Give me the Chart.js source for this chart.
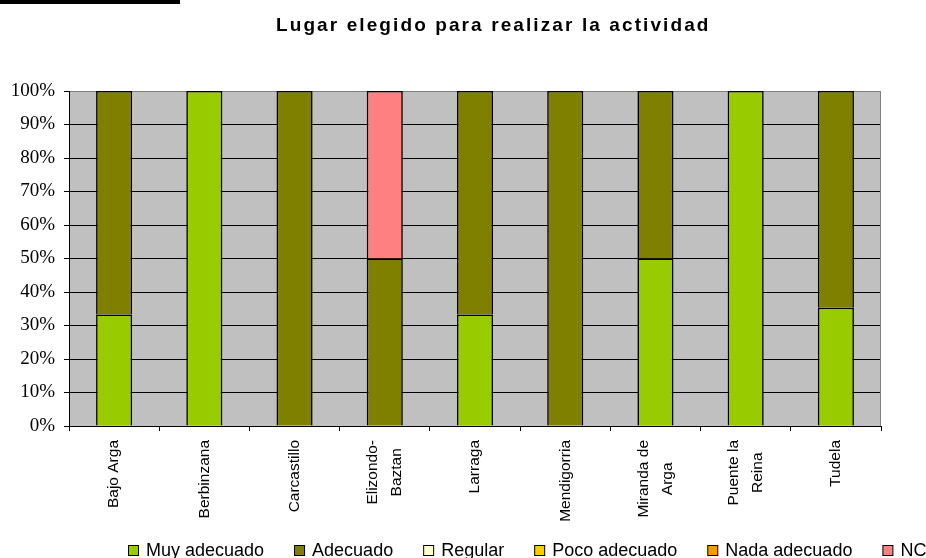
<!DOCTYPE html>
<html>
<head>
<meta charset="utf-8">
<script src="https://cdn.jsdelivr.net/npm/chart.js@4/dist/chart.umd.min.js"></script>
<style>
  html, body { margin: 0; padding: 0; background: #ffffff; }
  #wrap { position: relative; width: 926px; height: 558px; overflow: hidden; }
  #rule { position: absolute; left: 0; top: 0; width: 180px; height: 4px; background: #000; }
  canvas { display: block; }
</style>
</head>
<body>
<div id="wrap">
  <canvas id="c" width="926" height="558"></canvas>
  <div id="rule"></div>
</div>
<script>
// Localidades (multi-line labels split as arrays)
const categories = [
  'Bajo Arga',
  'Berbinzana',
  'Carcastillo',
  ['Elizondo-', 'Baztan'],
  'Larraga',
  'Mendigorria',
  ['Miranda de', 'Arga'],
  ['Puente la', 'Reina'],
  'Tudela'
];

// Porcentaje de respuestas por valoración
const muyAdecuado  = [33.3, 100, 0, 0, 33.3, 0, 50, 100, 35.3];
const adecuado     = [66.7, 0, 100, 50, 66.7, 100, 50, 0, 64.7];
const regular      = [0, 0, 0, 0, 0, 0, 0, 0, 0];
const pocoAdecuado = [0, 0, 0, 0, 0, 0, 0, 0, 0];
const nadaAdecuado = [0, 0, 0, 0, 0, 0, 0, 0, 0];
const nc           = [0, 0, 0, 50, 0, 0, 0, 0, 0];

const seriesNames = ['Muy adecuado', 'Adecuado', 'Regular', 'Poco adecuado', 'Nada adecuado', 'NC'];
const seriesColors = ['#99CC00', '#808000', '#FFFFCC', '#FFCC00', '#FF9900', '#FF8080'];
const seriesData = [muyAdecuado, adecuado, regular, pocoAdecuado, nadaAdecuado, nc];

const yTicks = [0, 10, 20, 30, 40, 50, 60, 70, 80, 90, 100];

const titleText = 'Lugar elegido para realizar la actividad';

const datasets = seriesNames.map((name, i) => ({
  label: name,
  data: seriesData[i],
  backgroundColor: seriesColors[i],
  borderColor: '#000000',
  borderWidth: 1.6,
  borderSkipped: 'start',
  categoryPercentage: 1.0,
  barPercentage: 0.4
}));

// Grey plot background and frame
const plotFrame = {
  id: 'plotFrame',
  beforeDraw(chart) {
    const { ctx, chartArea: a } = chart;
    ctx.save();
    ctx.fillStyle = '#C0C0C0';
    ctx.fillRect(a.left, a.top, a.right - a.left, a.bottom - a.top);
    ctx.restore();
  },
  beforeDatasetsDraw(chart) {
    const { ctx, chartArea: a } = chart;
    ctx.save();
    ctx.strokeStyle = '#808080';
    ctx.lineWidth = 1;
    ctx.beginPath();
    ctx.moveTo(a.right - 0.5, a.top);
    ctx.lineTo(a.right - 0.5, a.bottom);
    ctx.stroke();
    ctx.restore();
  }
};

// Vertical category labels, lines centred on each other, reading upwards
const xLabels = {
  id: 'xLabels',
  afterDraw(chart) {
    const ctx = chart.ctx;
    const scale = chart.scales.x;
    const top = scale.top + 14;
    const lineGap = 24;
    ctx.save();
    ctx.font = '15.5px "Liberation Sans", Arial, sans-serif';
    ctx.fillStyle = '#000';
    ctx.textAlign = 'center';
    ctx.textBaseline = 'middle';
    chart.data.labels.forEach((lab, i) => {
      const lines = Array.isArray(lab) ? lab : [lab];
      const x = scale.getPixelForTick(i);
      const w = Math.max(...lines.map(l => ctx.measureText(l).width));
      const cy = top + w / 2;
      ctx.save();
      ctx.translate(x, cy);
      ctx.rotate(-Math.PI / 2);
      lines.forEach((l, j) => {
        const off = (j - (lines.length - 1) / 2) * lineGap;
        ctx.fillText(l, 0, off);
      });
      ctx.restore();
    });
    ctx.restore();
  }
};

// Title with widened letter spacing
const titlePlugin = {
  id: 'titleText',
  afterDraw(chart) {
    const ctx = chart.ctx;
    ctx.save();
    ctx.font = 'bold 19px "Liberation Sans", Arial, sans-serif';
    ctx.fillStyle = '#000';
    ctx.textBaseline = 'alphabetic';
    ctx.textAlign = 'left';
    ctx.letterSpacing = '2.1px';
    ctx.fillText(titleText, 276, 31);
    ctx.restore();
  }
};

// Legend row along the bottom edge
const legendRow = {
  id: 'legendRow',
  afterDraw(chart) {
    const ctx = chart.ctx;
    ctx.save();
    ctx.font = '18px "Liberation Sans", Arial, sans-serif';
    ctx.textBaseline = 'alphabetic';
    ctx.textAlign = 'left';
    let x = 128;
    const baseY = 556;
    chart.data.datasets.forEach(ds => {
      ctx.fillStyle = ds.backgroundColor;
      ctx.fillRect(x + 0.5, 545.5, 10, 10);
      ctx.strokeStyle = '#000';
      ctx.lineWidth = 1;
      ctx.strokeRect(x + 0.5, 545.5, 10, 10);
      ctx.fillStyle = '#000';
      ctx.fillText(ds.label, x + 18, baseY);
      x += 18 + ctx.measureText(ds.label).width + 30;
    });
    ctx.restore();
  }
};

new Chart(document.getElementById('c'), {
  type: 'bar',
  data: { labels: categories, datasets },
  options: {
    responsive: false,
    animation: false,
    layout: { padding: { top: 91, right: 45, left: 0, bottom: 0 } },
    plugins: {
      legend: { display: false },
      title: { display: false },
      tooltip: { enabled: false }
    },
    scales: {
      x: {
        stacked: true,
        afterFit(s) { s.height = 132; },
        grid: {
          offset: true,
          drawOnChartArea: false,
          drawTicks: true,
          tickLength: 5,
          color: '#000000',
          tickColor: '#000000'
        },
        border: { display: true, color: '#000000', width: 1 },
        ticks: { display: false, autoSkip: false }
      },
      y: {
        stacked: true,
        min: 0,
        max: 100,
        afterFit(s) { s.width = 69; },
        afterBuildTicks(s) { s.ticks = yTicks.map(v => ({ value: v })); },
        grid: {
          drawTicks: true,
          tickLength: 5,
          color: ctx => (ctx.tick && ctx.tick.value === 100 ? '#808080' : '#000000'),
          tickColor: '#000000'
        },
        border: { display: true, color: '#000000', width: 1 },
        ticks: {
          padding: 9,
          color: '#000000',
          callback: v => v + '%',
          font: { family: '"Liberation Serif", "Times New Roman", serif', size: 19 }
        }
      }
    }
  },
  plugins: [plotFrame, xLabels, titlePlugin, legendRow]
});
</script>
</body>
</html>
